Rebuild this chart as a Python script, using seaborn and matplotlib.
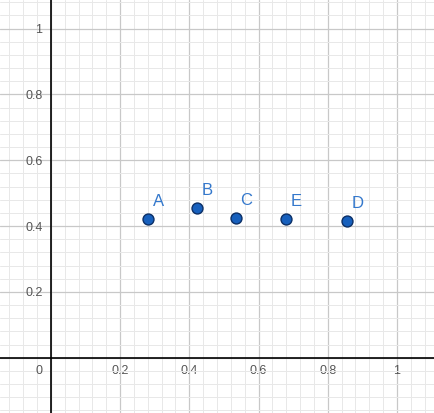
import matplotlib
matplotlib.use("Agg")
import matplotlib.pyplot as plt
import matplotlib.ticker as mticker
import seaborn as sns
import pandas as pd

labels = ["A", "B", "C", "E", "D"]
x_vals = [0.281, 0.421, 0.535, 0.679, 0.855]
y_vals = [0.423, 0.454, 0.426, 0.421, 0.416]
major_ticks = [0.2, 0.4, 0.6, 0.8, 1.0]

df = pd.DataFrame({"x": x_vals, "y": y_vals, "label": labels})

sns.set_style("white")
plt.rcParams["font.family"] = ["Liberation Sans", "DejaVu Sans"]

fig = plt.figure(figsize=(4.35, 4.13), dpi=100)
ax = fig.add_axes([0, 0, 1, 1])

sns.scatterplot(data=df, x="x", y="y", ax=ax, s=62, color="#1760bd",
                edgecolor="#0b2f66", linewidth=1.0, zorder=5, legend=False)
for _, r in df.iterrows():
    ax.annotate(r["label"], (r["x"], r["y"]), xytext=(7.5, 12.5),
                textcoords="offset points", color="#3478cc", fontsize=12,
                ha="center", va="center", zorder=6)

ax.set_xlim(-0.147, 1.110)
ax.set_ylim(-0.168, 1.087)

ax.xaxis.set_major_locator(mticker.FixedLocator([0] + major_ticks))
ax.yaxis.set_major_locator(mticker.FixedLocator([0] + major_ticks))
ax.xaxis.set_minor_locator(mticker.MultipleLocator(0.04))
ax.yaxis.set_minor_locator(mticker.MultipleLocator(0.04))
fmt = mticker.FuncFormatter(lambda v, p: "" if abs(v) < 1e-9 else "%g" % v)
ax.xaxis.set_major_formatter(fmt)
ax.yaxis.set_major_formatter(fmt)

ax.grid(which="major", color="#c8c8c8", linewidth=0.9)
ax.grid(which="minor", color="#e8e8e8", linewidth=0.7)
ax.set_axisbelow(True)

for side in ["top", "right"]:
    ax.spines[side].set_visible(False)
ax.spines["left"].set_position(("data", 0))
ax.spines["bottom"].set_position(("data", 0))
ax.spines["left"].set_color("black")
ax.spines["bottom"].set_color("black")
ax.spines["left"].set_linewidth(1.2)
ax.spines["bottom"].set_linewidth(1.2)

ax.tick_params(axis="both", which="both", length=0, labelsize=9,
               labelcolor="#555555")
ax.tick_params(axis="x", pad=5)
ax.tick_params(axis="y", pad=6)
ax.text(-0.035, -0.04, "0", fontsize=9, color="#555555", ha="center", va="center")

ax.set_xlabel("")
ax.set_ylabel("")

fig.savefig("out.png", dpi=100)
